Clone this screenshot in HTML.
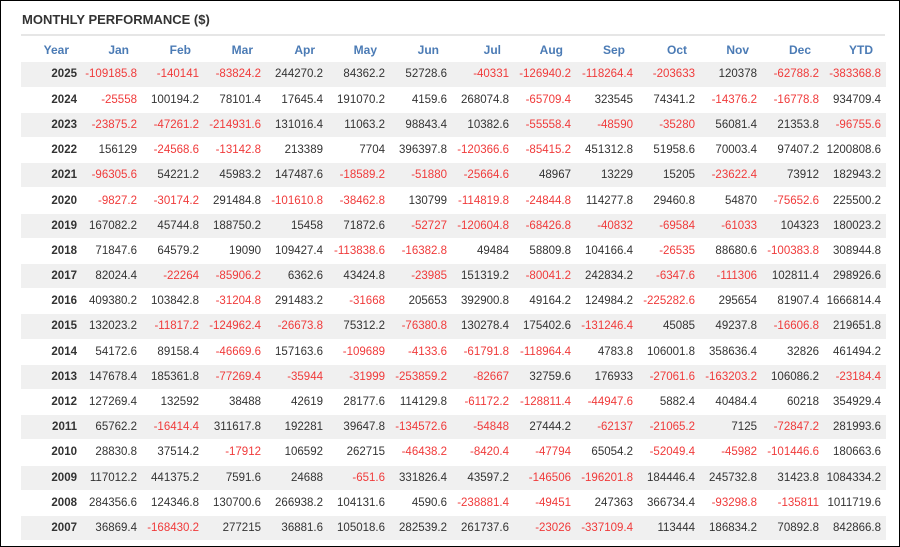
<!DOCTYPE html><html><head><style>
body{margin:0;width:900px;height:547px;background:#fff;font-family:"Liberation Sans",Arial,sans-serif;overflow:hidden}
.frame{position:absolute;left:0;top:0;width:898px;height:545px;border:1px solid #000}
.title{position:absolute;left:22px;top:12px;font-size:13px;font-weight:bold;color:#333}
.line{position:absolute;left:21px;top:34px;width:864px;height:2px;background:#e6e6e6}
table{position:absolute;left:21px;top:37px;border-collapse:collapse;table-layout:fixed;font-size:11.5px;color:#333}
td,th{padding:0 5px 0 0;text-align:right;white-space:nowrap;width:57px}
th{color:#4b7bb5;font-weight:bold;font-size:12px;padding-right:13px;width:49px;height:25px}
th:first-child{width:48px;padding-right:11px}
td:first-child{width:56px;padding-right:3px;font-weight:bold}
tbody tr{height:25.2px}
tbody td{height:24.2px;border-bottom:1px solid #fff;line-height:14px}
tbody tr:nth-child(odd) td{background:#f0f0f0}
.n{color:#f03a3a}
</style></head><body><div class="frame"></div>
<div class="title">MONTHLY PERFORMANCE ($)</div><div class="line"></div>
<table><thead><tr><th>Year</th><th>Jan</th><th>Feb</th><th>Mar</th><th>Apr</th><th>May</th><th>Jun</th><th>Jul</th><th>Aug</th><th>Sep</th><th>Oct</th><th>Nov</th><th>Dec</th><th>YTD</th></tr></thead><tbody id="b"></tbody></table>
<script>
var d=`2025 -109185.8 -140141 -83824.2 244270.2 84362.2 52728.6 -40331 -126940.2 -118264.4 -203633 120378 -62788.2 -383368.8
2024 -25558 100194.2 78101.4 17645.4 191070.2 4159.6 268074.8 -65709.4 323545 74341.2 -14376.2 -16778.8 934709.4
2023 -23875.2 -47261.2 -214931.6 131016.4 11063.2 98843.4 10382.6 -55558.4 -48590 -35280 56081.4 21353.8 -96755.6
2022 156129 -24568.6 -13142.8 213389 7704 396397.8 -120366.6 -85415.2 451312.8 51958.6 70003.4 97407.2 1200808.6
2021 -96305.6 54221.2 45983.2 147487.6 -18589.2 -51880 -25664.6 48967 13229 15205 -23622.4 73912 182943.2
2020 -9827.2 -30174.2 291484.8 -101610.8 -38462.8 130799 -114819.8 -24844.8 114277.8 29460.8 54870 -75652.6 225500.2
2019 167082.2 45744.8 188750.2 15458 71872.6 -52727 -120604.8 -68426.8 -40832 -69584 -61033 104323 180023.2
2018 71847.6 64579.2 19090 109427.4 -113838.6 -16382.8 49484 58809.8 104166.4 -26535 88680.6 -100383.8 308944.8
2017 82024.4 -22264 -85906.2 6362.6 43424.8 -23985 151319.2 -80041.2 242834.2 -6347.6 -111306 102811.4 298926.6
2016 409380.2 103842.8 -31204.8 291483.2 -31668 205653 392900.8 49164.2 124984.2 -225282.6 295654 81907.4 1666814.4
2015 132023.2 -11817.2 -124962.4 -26673.8 75312.2 -76380.8 130278.4 175402.6 -131246.4 45085 49237.8 -16606.8 219651.8
2014 54172.6 89158.4 -46669.6 157163.6 -109689 -4133.6 -61791.8 -118964.4 4783.8 106001.8 358636.4 32826 461494.2
2013 147678.4 185361.8 -77269.4 -35944 -31999 -253859.2 -82667 32759.6 176933 -27061.6 -163203.2 106086.2 -23184.4
2012 127269.4 132592 38488 42619 28177.6 114129.8 -61172.2 -128811.4 -44947.6 5882.4 40484.4 60218 354929.4
2011 65762.2 -16414.4 311617.8 192281 39647.8 -134572.6 -54848 27444.2 -62137 -21065.2 7125 -72847.2 281993.6
2010 28830.8 37514.2 -17912 106592 262715 -46438.2 -8420.4 -47794 65054.2 -52049.4 -45982 -101446.6 180663.6
2009 117012.2 441375.2 7591.6 24688 -651.6 331826.4 43597.2 -146506 -196201.8 184446.4 245732.8 31423.8 1084334.2
2008 284356.6 124346.8 130700.6 266938.2 104131.6 4590.6 -238881.4 -49451 247363 366734.4 -93298.8 -135811 1011719.6
2007 36869.4 -168430.2 277215 36881.6 105018.6 282539.2 261737.6 -23026 -337109.4 113444 186834.2 70892.8 842866.8`;
var h='';d.split('\n').forEach(function(l){var a=l.split(' ');h+='<tr>'+a.map(function(v,i){return '<td'+(i&&v[0]=='-'?' class="n"':'')+'>'+v+'</td>'}).join('')+'</tr>'});
document.getElementById('b').innerHTML=h;
</script></body></html>
